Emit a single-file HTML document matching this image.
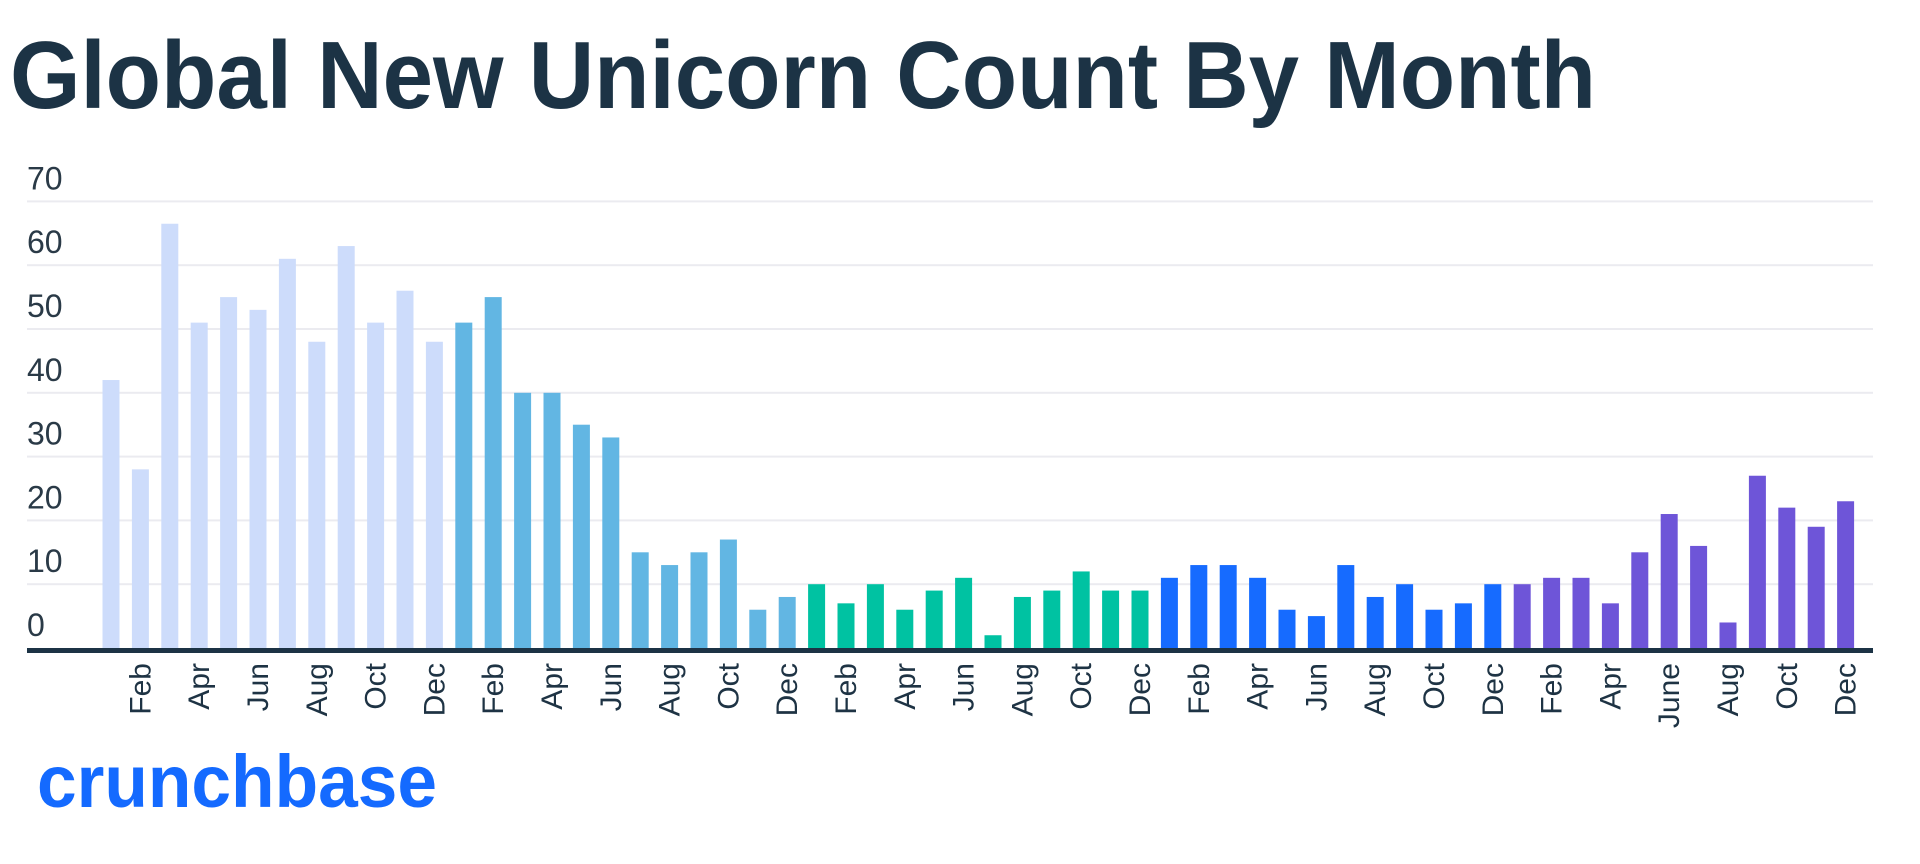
<!DOCTYPE html>
<html><head><meta charset="utf-8"><style>
html,body{margin:0;padding:0;background:#fff;width:1920px;height:864px;overflow:hidden}
svg{display:block}
</style></head><body>
<svg id="s" width="1920" height="864" xmlns="http://www.w3.org/2000/svg" font-family="Liberation Sans, sans-serif">
<text x="10" y="108" font-size="96" font-weight="bold" fill="#1c3345" textLength="1586" lengthAdjust="spacingAndGlyphs">Global New Unicorn Count By Month</text>
<g id="grid"></g>
<g id="bars"></g>
<rect x="27" y="648" width="1846" height="5" fill="#1c3345"/>
<g id="labels" font-size="30" fill="#1e3344"></g>
<text x="37" y="807" font-size="74" font-weight="bold" fill="#146aff" textLength="400" lengthAdjust="spacingAndGlyphs">crunchbase</text>
</svg>
<script>
const ns="http://www.w3.org/2000/svg";
const base=648,u=6.38;
let g=document.getElementById('grid');
for(let i=0;i<=7;i++){
  const y=base-i*63.8;
  if(i>0){const l=document.createElementNS(ns,'rect');l.setAttribute('x',27);l.setAttribute('y',y-1);l.setAttribute('width',1846);l.setAttribute('height',2);l.setAttribute('fill','#ebebf0');g.appendChild(l);}
  const t=document.createElementNS(ns,'text');t.setAttribute('x',27);t.setAttribute('y',y-12);t.setAttribute('font-size',32);t.setAttribute('fill','#2a3a47');t.textContent=i*10;g.appendChild(t);
}
const vals=[42,28,66.5,51,55,53,61,48,63,51,56,48, 51,55,40,40,35,33,15,13,15,17,6,8, 10,7,10,6,9,11,2,8,9,12,9,9, 11,13,13,11,6,5,13,8,10,6,7,10, 10,11,11,7,15,21,16,4,27,22,19,23];
const cols=['#cddcfb','#62b6e3','#00c2a2','#166bff','#6e55d8'];
const b=document.getElementById('bars'),lb=document.getElementById('labels');
const names=[['Feb','Apr','Jun','Aug','Oct','Dec'],['Feb','Apr','Jun','Aug','Oct','Dec'],['Feb','Apr','Jun','Aug','Oct','Dec'],['Feb','Apr','Jun','Aug','Oct','Dec'],['Feb','Apr','June','Aug','Oct','Dec']];
vals.forEach((v,i)=>{
  const cx=111+i*29.4,h=v*u;
  const r=document.createElementNS(ns,'rect');r.setAttribute('x',cx-8.5);r.setAttribute('y',base-h);r.setAttribute('width',17);r.setAttribute('height',h);r.setAttribute('fill',cols[Math.floor(i/12)]);b.appendChild(r);
  const m=i%12;
  if(m%2==1){const t=document.createElementNS(ns,'text');const x=cx+10,y=663;t.setAttribute('transform',`translate(${x},${y}) rotate(-90)`);t.setAttribute('text-anchor','end');t.textContent=names[Math.floor(i/12)][(m-1)/2];lb.appendChild(t);}
});
</script>
</body></html>
